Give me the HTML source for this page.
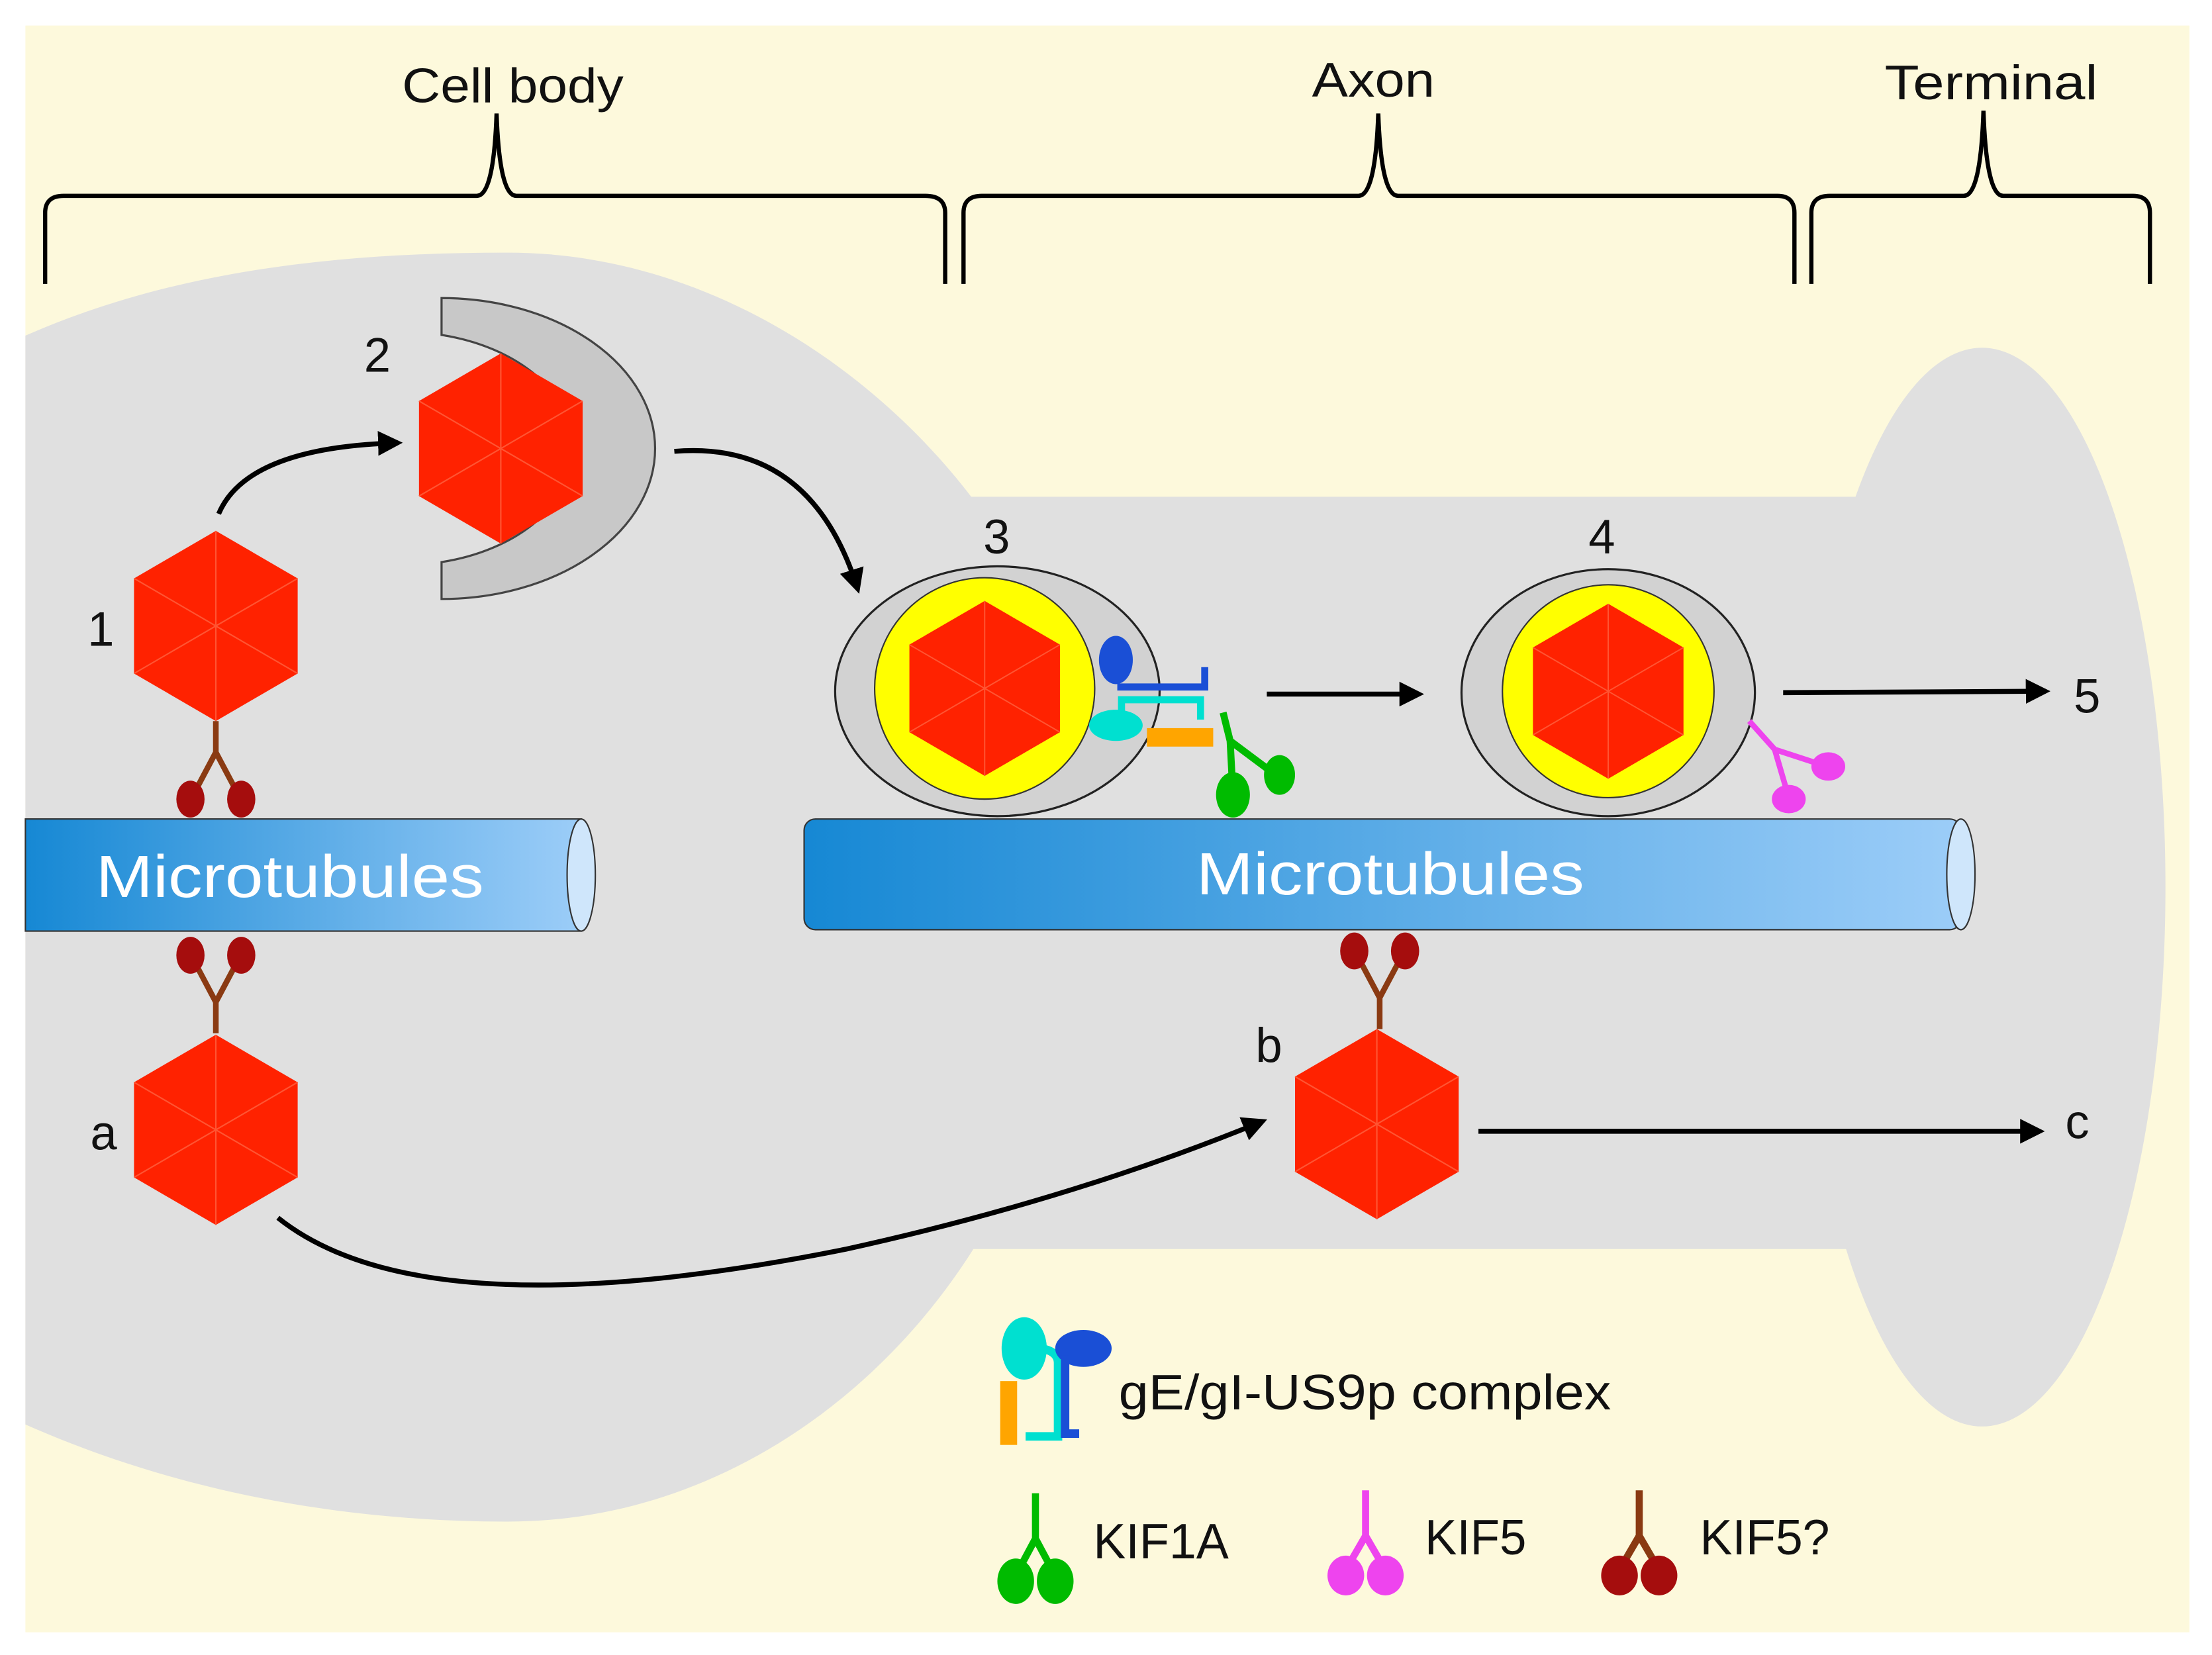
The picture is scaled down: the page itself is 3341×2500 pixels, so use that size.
<!DOCTYPE html>
<html><head><style>html,body{margin:0;padding:0;background:#fff}svg{display:block}</style></head>
<body>
<svg width="3341" height="2500" viewBox="0 0 1568 1166" preserveAspectRatio="none" xmlns="http://www.w3.org/2000/svg" font-family="Liberation Sans, sans-serif">
<defs>
<linearGradient id="mt" x1="0" x2="1" y1="0" y2="0"><stop offset="0" stop-color="#1688d4"/><stop offset="1" stop-color="#9ccdf8"/></linearGradient>
<marker id="ar" viewBox="0 0 10 10" refX="8" refY="5" markerWidth="5" markerHeight="5" orient="auto"><path d="M0,0L10,5L0,10z" fill="#000"/></marker>
<clipPath id="bg"><rect x="18" y="18" width="1534" height="1132"/></clipPath>
<g id="hex">
<polygon points="0,-67 58,-33.5 58,33.5 0,67 -58,33.5 -58,-33.5" fill="#ff2200"/>
<path d="M0,0L0,-67M0,0L58,33.5M0,0L-58,33.5M0,0L58,-33.5M0,0L-58,-33.5M0,0L0,67" stroke="#ff5533" stroke-width="1"/>
</g>
<g id="kb"><path d="M0,0V22M0,22L-16,52M0,22L16,52" stroke="#8a3a12" stroke-width="4" fill="none"/><ellipse cx="-18" cy="55" rx="10" ry="13" fill="#a50d0d"/><ellipse cx="18" cy="55" rx="10" ry="13" fill="#a50d0d"/></g>
</defs>
<rect x="18" y="18" width="1534" height="1132" fill="#fdf9dc"/>
<g clip-path="url(#bg)" fill="#e0e0e0">
<path d="M10,240 C120,190 240,178 360,178 C500,178 620,260 690,352 L690,880 C620,990 500,1072 360,1072 C240,1072 120,1050 10,1000 Z"/>
<rect x="660" y="350" width="700" height="530"/>
<ellipse cx="1405" cy="625" rx="130" ry="380"/>
</g>
<!-- brackets -->
<g stroke="#000" stroke-width="3" fill="none">
<path d="M32,200 V150 Q32,138 45,138 H338 Q350,138 352,80 Q354,138 366,138 H656 Q670,138 670,150 V200"/>
<path d="M683,200 V150 Q683,138 696,138 H963 Q975,138 977,80 Q979,138 991,138 H1260 Q1272,138 1272,150 V200"/>
<path d="M1284,200 V150 Q1284,138 1297,138 H1392 Q1404,138 1406,78 Q1408,138 1420,138 H1512 Q1524,138 1524,150 V200"/>
</g>
<g font-size="34" fill="#111">
<text x="285" y="72" textLength="157" lengthAdjust="spacingAndGlyphs">Cell body</text>
<text x="930" y="68" textLength="87" lengthAdjust="spacingAndGlyphs">Axon</text>
<text x="1336" y="70" textLength="151" lengthAdjust="spacingAndGlyphs">Terminal</text>
</g>
<!-- microtubules -->
<rect x="18" y="577" width="394" height="79" fill="url(#mt)" stroke="#333" stroke-width="1"/>
<ellipse cx="412" cy="616.5" rx="10" ry="39.5" fill="#cfe6fb" stroke="#333"/>
<rect x="570" y="577" width="820" height="78" rx="8" fill="url(#mt)" stroke="#333" stroke-width="1"/>
<ellipse cx="1390" cy="616" rx="10" ry="39" fill="#cfe6fb" stroke="#333"/>
<text x="68" y="632" font-size="42" fill="#fff" textLength="275" lengthAdjust="spacingAndGlyphs">Microtubules</text>
<text x="848" y="630" font-size="42" fill="#fff" textLength="275" lengthAdjust="spacingAndGlyphs">Microtubules</text>
<!-- C shape -->
<path d="M313,210 A150,105 0 0 1 313,422 L313,396 A120,82 0 0 0 313,236 Z" fill="#c8c8c8" stroke="#444" stroke-width="1.5"/>
<!-- hexes -->
<use href="#hex" x="153" y="441"/>
<use href="#hex" x="355" y="316"/>
<use href="#hex" x="153" y="796"/>
<use href="#hex" x="976" y="792"/>
<use href="#kb" x="153" y="508"/>
<g transform="translate(153,728) scale(1,-1)"><use href="#kb"/></g>
<g transform="translate(978,725) scale(1,-1)"><use href="#kb"/></g>
<!-- vesicle 3 -->
<ellipse cx="707" cy="487" rx="115" ry="88" fill="#d2d2d2" stroke="#222" stroke-width="1.5"/>
<circle cx="698" cy="485" r="78" fill="#ffff00" stroke="#333"/>
<g transform="translate(698,485) scale(0.92)"><use href="#hex"/></g>
<!-- vesicle 4 -->
<ellipse cx="1140" cy="488" rx="104" ry="87" fill="#d2d2d2" stroke="#222" stroke-width="1.5"/>
<circle cx="1140" cy="487" r="75" fill="#ffff00" stroke="#333"/>
<g transform="translate(1140,487) scale(0.92)"><use href="#hex"/></g>
<!-- gE/gI complex at 3 -->
<ellipse cx="791" cy="465" rx="12" ry="17" fill="#1a4fd6"/>
<path d="M792,484 H854 V470" stroke="#1a4fd6" stroke-width="5" fill="none"/>
<path d="M795,505 V493 H851 V507" stroke="#00e0d0" stroke-width="5" fill="none"/>
<ellipse cx="791" cy="511" rx="19" ry="11" fill="#00e0d0"/>
<rect x="813" y="513" width="47" height="13" fill="#ffa500"/>
<!-- KIF1A green -->
<path d="M867,502 L872,522 L874,560 M872,522 L907,548" stroke="#00bb00" stroke-width="5" fill="none"/>
<ellipse cx="874" cy="560" rx="12" ry="16" fill="#00bb00"/>
<ellipse cx="907" cy="546" rx="11" ry="14" fill="#00bb00"/>
<!-- KIF5 magenta at 4 -->
<path d="M1240,508 L1258,528 L1268,562 M1258,528 L1295,540" stroke="#ee44ee" stroke-width="4" fill="none"/>
<ellipse cx="1268" cy="563" rx="12" ry="10" fill="#ee44ee"/>
<ellipse cx="1296" cy="540" rx="12" ry="10" fill="#ee44ee"/>
<!-- arrows -->
<g stroke="#000" stroke-width="3.5" fill="none" marker-end="url(#ar)">
<path d="M155,362 Q175,315 282,312"/>
<path d="M478,318 Q575,310 608,415"/>
<path d="M898,489 H1006"/>
<path d="M1264,488 L1450,487"/>
<path d="M1048,797 H1446"/>
<path d="M197,858 Q300,940 600,880 Q760,845 895,790"/>
</g>
<g font-size="34" fill="#111">
<text x="258" y="262">2</text>
<text x="62" y="455">1</text>
<text x="697" y="390">3</text>
<text x="1126" y="390">4</text>
<text x="1470" y="502">5</text>
<text x="64" y="810">a</text>
<text x="890" y="748">b</text>
<text x="1464" y="802">c</text>
</g>
<!-- legend -->
<rect x="709" y="973" width="12" height="45" fill="#ffa500"/>
<ellipse cx="726" cy="950" rx="16" ry="22" fill="#00e0d0"/>
<path d="M738,950 Q750,952 750,960 V1012 H727" stroke="#00e0d0" stroke-width="6" fill="none"/>
<ellipse cx="768" cy="950" rx="20" ry="13" fill="#1a4fd6"/>
<path d="M755,955 V1010 H765" stroke="#1a4fd6" stroke-width="6" fill="none"/>
<text x="793" y="993" font-size="35" fill="#111" textLength="349" lengthAdjust="spacingAndGlyphs">gE/gI-US9p complex</text>
<g transform="translate(734,1052)"><path d="M0,0V32M0,32L-14,58M0,32L14,58" stroke="#00bb00" stroke-width="5" fill="none"/><ellipse cx="-14" cy="62" rx="13" ry="16" fill="#00bb00"/><ellipse cx="14" cy="62" rx="13" ry="16" fill="#00bb00"/></g>
<text x="775" y="1098" font-size="35" fill="#111" textLength="96" lengthAdjust="spacingAndGlyphs">KIF1A</text>
<g transform="translate(968,1050)"><path d="M0,0V32M0,32L-14,56M0,32L14,56" stroke="#ee44ee" stroke-width="5" fill="none"/><ellipse cx="-14" cy="60" rx="13" ry="14" fill="#ee44ee"/><ellipse cx="14" cy="60" rx="13" ry="14" fill="#ee44ee"/></g>
<text x="1010" y="1095" font-size="35" fill="#111" textLength="72" lengthAdjust="spacingAndGlyphs">KIF5</text>
<g transform="translate(1162,1050)"><path d="M0,0V32M0,32L-14,56M0,32L14,56" stroke="#8a3a12" stroke-width="5" fill="none"/><ellipse cx="-14" cy="60" rx="13" ry="14" fill="#a50d0d"/><ellipse cx="14" cy="60" rx="13" ry="14" fill="#a50d0d"/></g>
<text x="1205" y="1095" font-size="35" fill="#111" textLength="92" lengthAdjust="spacingAndGlyphs">KIF5?</text>
</svg>
</body></html>
